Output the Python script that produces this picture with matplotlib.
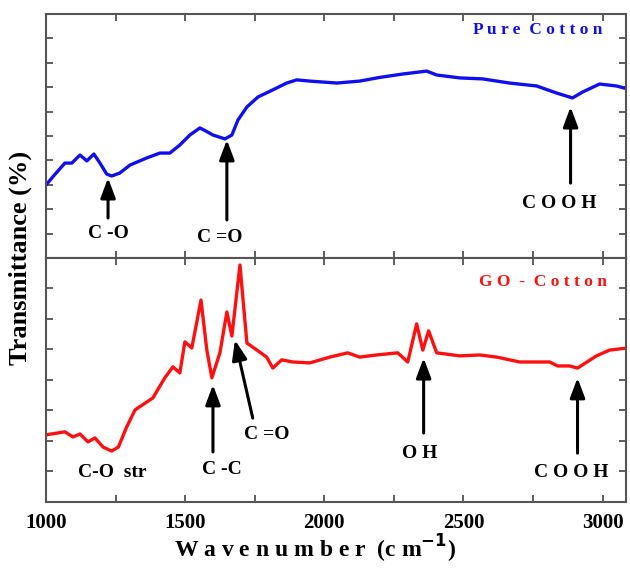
import numpy as np
import matplotlib.pyplot as plt
from matplotlib.ticker import MultipleLocator

plt.rcParams['font.family'] = ['Liberation Serif', 'DejaVu Serif']
plt.rcParams['font.weight'] = 'bold'

# Pure cotton spectrum (arbitrary units)
pure_wn = [1000, 1030, 1068, 1093, 1122, 1147, 1172, 1194, 1218, 1236, 1265, 1302, 1362,
           1409, 1445, 1481, 1517, 1553, 1575, 1600, 1643, 1668, 1690, 1722, 1762, 1815,
           1865, 1901, 1948, 2045, 2127, 2199, 2282, 2368, 2404, 2487, 2569, 2666,
           2763, 2835, 2892, 2928, 2989, 3050, 3090]
pure_t = [2.99, 3.40, 3.89, 3.89, 4.22, 3.98, 4.26, 3.89, 3.44, 3.36, 3.48, 3.81, 4.10,
          4.30, 4.30, 4.63, 5.04, 5.33, 5.20, 5.04, 4.88, 5.04, 5.66, 6.19, 6.60, 6.89,
          7.17, 7.30, 7.25, 7.17, 7.25, 7.40, 7.54, 7.66, 7.50, 7.38, 7.34, 7.17,
          7.05, 6.76, 6.56, 6.80, 7.13, 7.05, 6.93]

# GO-cotton spectrum
go_wn = [1000, 1068, 1097, 1122, 1151, 1176, 1205, 1236, 1260, 1290, 1320, 1384,
         1427, 1456, 1481, 1499, 1524, 1557, 1578, 1596, 1625, 1650, 1668, 1697,
         1722, 1758, 1793, 1815, 1847, 1887, 1948, 2020, 2084, 2127, 2188, 2264,
         2300, 2332, 2354, 2375, 2404, 2487, 2559, 2620, 2702, 2810, 2838, 2881,
         2910, 2978, 3025, 3090]
go_t = [2.20, 2.30, 2.13, 2.23, 1.97, 2.10, 1.80, 1.67, 1.80, 2.46, 3.02, 3.41,
        4.07, 4.43, 4.23, 5.25, 5.05, 6.62, 4.98, 4.07, 4.89, 6.23, 5.44, 7.77,
        5.21, 4.98, 4.75, 4.39, 4.66, 4.59, 4.56, 4.75, 4.89, 4.75, 4.82, 4.89,
        4.59, 5.84, 4.98, 5.61, 4.89, 4.79, 4.82, 4.75, 4.59, 4.59, 4.46, 4.46,
        4.39, 4.79, 4.98, 5.05]

# annotations: label, text pos, arrow tail, arrow tip
pure_notes = [("C -O", (1223, 1.0), (1223, 1.64), (1223, 3.28)),
              ("C =O", (1625, 0.86), (1650, 1.56), (1650, 4.84)),
              ("C O O H", (2845, 2.25), (2885, 3.07), (2885, 6.19))]
go_notes = [("C-O  str", (1237, 0.95), None, None),
            ("C -C", (1632, 1.05), (1600, 1.64), (1600, 3.84)),
            ("C =O", (1794, 2.2), (1743, 2.75), (1679, 5.31)),
            ("O H", (2343, 1.6), (2357, 2.26), (2357, 4.72)),
            ("C O O H", (2889, 0.98), (2910, 1.6), (2910, 4.07))]

fig = plt.figure(figsize=(6.3, 5.69), dpi=100)
ax1 = fig.add_axes([0.073, 0.5466, 0.921, 0.4288])
ax2 = fig.add_axes([0.073, 0.1178, 0.921, 0.4288], sharex=ax1)

def style(ax, ymax):
    ax.set_xlim(1000, 3085)
    ax.set_ylim(0, ymax)
    ax.xaxis.set_major_locator(MultipleLocator(500))
    ax.xaxis.set_minor_locator(MultipleLocator(250))
    ax.yaxis.set_major_locator(MultipleLocator(1))
    ax.tick_params(which='both', direction='in', top=True, right=True,
                   length=5, width=1.2, color='#444444', labelleft=False)
    for s in ax.spines.values():
        s.set_color('#555555')
        s.set_linewidth(1.5)

def note(ax, items):
    for label, tpos, tail, tip in items:
        ax.text(tpos[0], tpos[1], label, ha='center', va='center',
                fontsize=14, fontweight='bold')
        if tail is not None:
            ax.annotate('', xy=tip, xytext=tail,
                        arrowprops=dict(arrowstyle='-|>,head_width=0.3,head_length=0.8',
                                        lw=2.2, color='black', mutation_scale=15,
                                        shrinkA=0, shrinkB=0))

ax1.plot(pure_wn, pure_t, color='#1010ee', lw=2.4)
style(ax1, 10)
ax1.tick_params(labelbottom=False)
ax1.text(3000, 9.34, "P u r e  C o t t o n", color='#1010ee', ha='right',
         va='center', fontsize=12.5, fontweight='bold')
note(ax1, pure_notes)

ax2.plot(go_wn, go_t, color='#ff1010', lw=2.4)
style(ax2, 8)
ax2.text(3014, 7.21, "G O  -  C o t t o n", color='#ff1010', ha='right',
         va='center', fontsize=12.5, fontweight='bold')
note(ax2, go_notes)
ax2.tick_params(axis='x', pad=8, labelsize=15)

fig.text(0.5, 0.035, "W a v e n u m b e r  (c m$^{\\mathbf{-1}}$)", ha='center',
         va='center', fontsize=17, fontweight='bold')
fig.text(0.032, 0.5466, "Transmittance (%)", rotation=90, ha='center',
         va='center', fontsize=19, fontweight='bold')

fig.savefig('out.png', dpi=100)
